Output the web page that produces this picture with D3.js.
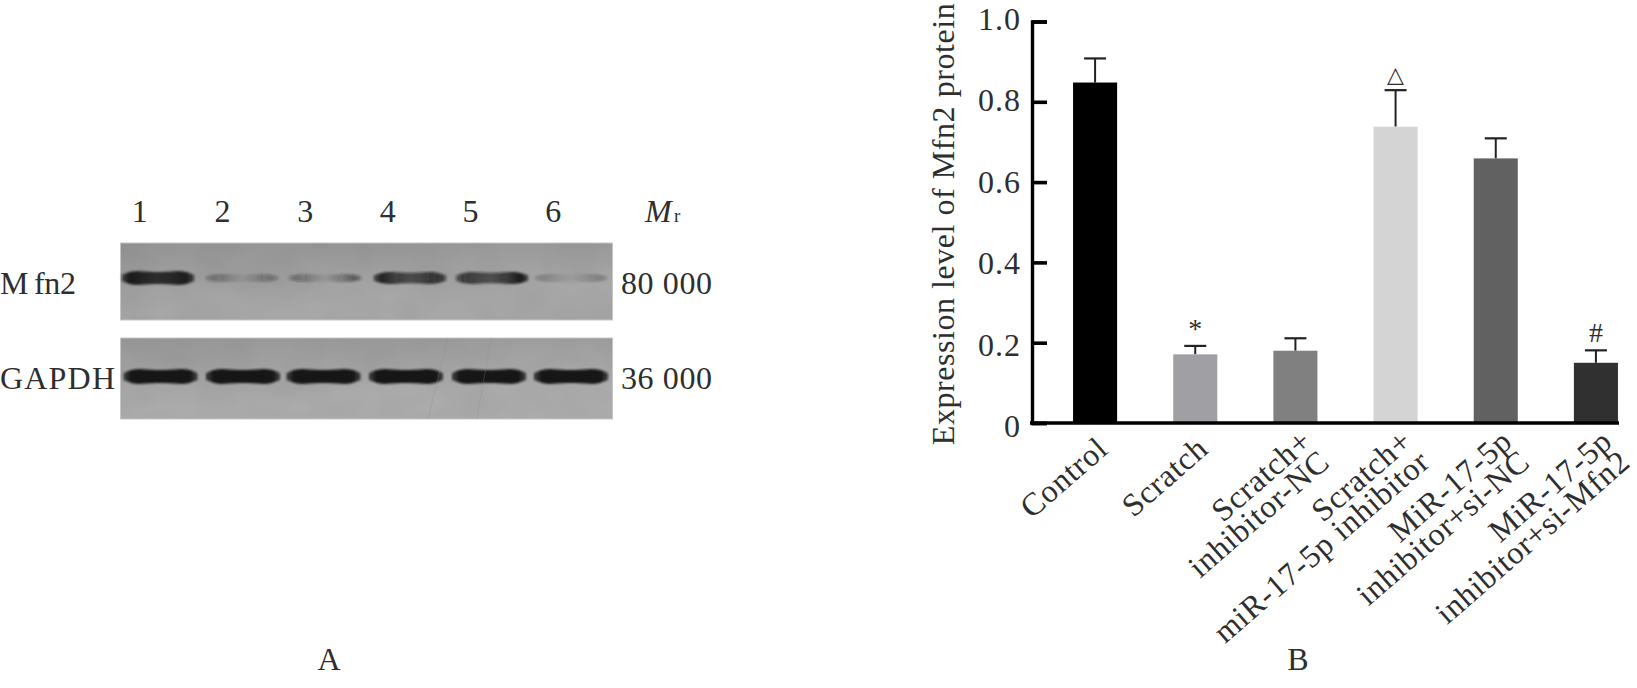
<!DOCTYPE html>
<html><head><meta charset="utf-8">
<script src="https://cdn.jsdelivr.net/npm/d3@7"></script>
<style>html,body{margin:0;background:#fff}svg{display:block}
text{font-family:"Liberation Serif",serif;fill:#2e2e2e}</style></head>
<body><svg id="c" width="1637" height="688"></svg>
<script>
const categories = [["Control"],["Scratch"],["Scratch+","inhibitor-NC"],["Scratch+","miR-17-5p inhibitor"],["MiR-17-5p","inhibitor+si-NC"],["MiR-17-5p","inhibitor+si-Mfn2"]];
const means = [0.848,0.171,0.180,0.738,0.659,0.150];
const upper = [0.908,0.192,0.211,0.829,0.709,0.181];
const barColors = ["#000000","#a0a0a4","#808080","#d4d4d4","#616161","#303030"];
const marks = ["","*","","△","","#"];
const yTicks = [0,0.2,0.4,0.6,0.8,1.0];
const yTickLabels = ["0","0.2","0.4","0.6","0.8","1.0"];
const lanes = ["1","2","3","4","5","6"];
// band darkness at left end, middle, right end
const mfn2Bands = [[0.98,0.85,0.95],[0.34,0.06,0.34],[0.36,0.06,0.5],[0.92,0.6,0.8],[0.72,0.58,0.98],[0.2,0.05,0.22]];
const gapdhBands = [[1,1,1],[1,1,1],[1,1,1],[1,1,1],[1,1,1],[1,1,1]];
const mfn2Centers = [158,242,325,410,492,571];
const mfn2Half = [7,4,4,6,6,4];
const gapdhCenters = [160.5,243,323.5,406,489,571];
const gapdhHalf = [7.5,7.5,7.5,7.5,7.5,7.5];
const bandProfile = [0.45,0.98,1,0.9,0.84,0.9,1,0.98,0.45];
const scratches = [[448,338,428,419],[491,338,477,419]];

const svg = d3.select("#c");
const defs = svg.append("defs");
defs.append("filter").attr("id","b1").attr("x","-20%").attr("y","-100%").attr("width","140%").attr("height","300%")
  .append("feGaussianBlur").attr("stdDeviation","1.8 1.3");
defs.append("filter").attr("id","b2").attr("x","-20%").attr("y","-100%").attr("width","140%").attr("height","300%")
  .append("feGaussianBlur").attr("stdDeviation","1.1");
const nf = defs.append("filter").attr("id","grain").attr("x","0").attr("y","0").attr("width","100%").attr("height","100%");
nf.append("feTurbulence").attr("type","fractalNoise").attr("baseFrequency","0.02 0.03").attr("numOctaves",2).attr("seed",4);
nf.append("feColorMatrix").attr("values","0 0 0 0 0  0 0 0 0 0  0 0 0 0 0  0.3 0 0 0 -0.1");
const corner = defs.append("linearGradient").attr("id","corner").attr("x1",0).attr("y1",0).attr("x2",0.3).attr("y2",0.8);
[[0,0.12],[1,0]].forEach(s=>corner.append("stop").attr("offset",s[0]).attr("stop-color","#000").attr("stop-opacity",s[1]));

/* ---------- Panel A ---------- */
const FS = 32;
function label(x,y,t,o={}){
  return svg.append("text").attr("x",x).attr("y",y).attr("font-size",o.fs||FS)
    .attr("text-anchor",o.anchor||"start").attr("font-style",o.italic?"italic":null)
    .attr("letter-spacing",o.ls||null).text(t);
}
const laneX = d3.scaleBand().domain(lanes).range([98.5,594.5]);
lanes.forEach(l=>label(laneX(l)+laneX.bandwidth()/2,222,l,{anchor:"middle"}));
label(645,222,"M",{italic:true});
label(674,222,"r",{fs:19});
label(0,294,"M");
label(34,294,"fn2",{ls:-0.3});
label(0,389,"GAPDH",{ls:1.2});
label(621,294,"80 000",{ls:0.6});
label(621,389,"36 000",{ls:0.6});

function blot(y0,y1,bg,centers,levels,halfW,halves,bandY,filt,id){
  svg.append("rect").attr("x",120.5).attr("y",y0).attr("width",492).attr("height",y1-y0).attr("fill",bg).attr("stroke","#c6c6c6").attr("stroke-width",1);
  svg.append("rect").attr("x",121).attr("y",y0+.5).attr("width",491).attr("height",y1-y0-1).attr("fill","#000").attr("filter","url(#grain)").attr("opacity",0.22);
  svg.append("rect").attr("x",121).attr("y",y0+.5).attr("width",491).attr("height",y1-y0-1).attr("fill","url(#corner)");
  centers.forEach((c,i)=>{
    const g = defs.append("linearGradient").attr("id",id+i);
    const lv = levels[i];
    [[0,lv[0]*.7],[0.1,lv[0]],[0.32,(lv[0]+lv[1]*2)/3],[0.5,lv[1]],[0.68,(lv[2]+lv[1]*2)/3],[0.9,lv[2]],[1,lv[2]*.7]].forEach(s=>
      g.append("stop").attr("offset",s[0]).attr("stop-color","#161616").attr("stop-opacity",s[1]));
    const px = d3.scaleLinear().domain([0,bandProfile.length-1]).range([c-halfW,c+halfW]);
    const area = d3.area().x((d,k)=>px(k)).y0(d=>bandY-halves[i]*d).y1(d=>bandY+halves[i]*d).curve(d3.curveBasis);
    svg.append("path").datum(bandProfile).attr("d",area).attr("fill",`url(#${id+i})`).attr("filter",`url(#${filt})`);
  });
}
blot(243,320,"#a7a7a7",mfn2Centers,mfn2Bands,36,mfn2Half,278,"b1","m");
blot(338,419,"#ababab",gapdhCenters,gapdhBands,37,gapdhHalf,376.5,"b2","g");
svg.selectAll("line.scr").data(scratches).enter().append("line").attr("class","scr")
  .attr("x1",d=>d[0]).attr("y1",d=>d[1]).attr("x2",d=>d[2]).attr("y2",d=>d[3])
  .attr("stroke","#8c8c8c").attr("stroke-width",0.8).attr("opacity",0.35);
label(329,670,"A",{anchor:"middle"});

/* ---------- Panel B ---------- */
const y = d3.scaleLinear().domain([0,1]).range([423,21.5]);
const yLabel = d3.scaleLinear().domain([0,1]).range([427,20]);
const x = d3.scaleBand().domain(d3.range(6)).range([1045,1646]).paddingInner(0.56).paddingOuter(0.28);
const bw = x.bandwidth();

svg.selectAll("line.err").data(means).enter().append("line").attr("class","err")
  .attr("x1",(d,i)=>x(i)+bw/2).attr("x2",(d,i)=>x(i)+bw/2)
  .attr("y1",d=>y(d)).attr("y2",(d,i)=>y(upper[i])).attr("stroke","#222").attr("stroke-width",2);
svg.selectAll("line.cap").data(upper).enter().append("line").attr("class","cap")
  .attr("x1",(d,i)=>x(i)+bw/2-11).attr("x2",(d,i)=>x(i)+bw/2+11)
  .attr("y1",d=>y(d)).attr("y2",d=>y(d)).attr("stroke","#222").attr("stroke-width",2.2);
svg.selectAll("rect.bar").data(means).enter().append("rect").attr("class","bar")
  .attr("x",(d,i)=>x(i)).attr("width",bw).attr("y",d=>y(d)).attr("height",d=>y(0)-y(d))
  .attr("fill",(d,i)=>barColors[i]);

const axisG = svg.append("g").attr("transform","translate(1032,0)")
  .call(d3.axisRight(y).tickValues(yTicks).tickSize(15).tickFormat(""));
axisG.select(".domain").attr("stroke","#000").attr("stroke-width",3.4);
axisG.selectAll(".tick line").attr("stroke","#000").attr("stroke-width",3.6);
yTicks.forEach((t,i)=>label(1021,yLabel(t)+10,yTickLabels[i],{anchor:"end",ls:1}));
svg.append("line").attr("x1",1030).attr("x2",1619).attr("y1",y(0)).attr("y2",y(0)).attr("stroke","#000").attr("stroke-width",3.6);

marks.forEach((m,i)=>{ if(!m) return;
  const fs = m==="△"?22:28;
  svg.append("text").attr("x",x(i)+bw/2).attr("y",y(upper[i])-8).attr("text-anchor","middle")
    .attr("font-size",fs).style("font-family",m==="△"?'"DejaVu Sans"':null).text(m);
});

const tl = svg.selectAll("g.cat").data(categories).enter().append("g").attr("class","cat")
  .attr("transform",(d,i)=>`translate(${x(i)+bw/2+(d.length>1?19:3)},${d.length>1?445:438}) rotate(-41)`);
tl.each(function(lines){
  const g=d3.select(this);
  lines.forEach((t,k)=>g.append("text").attr("x",0).attr("y",k*27+(lines.length>1?-1:18))
    .attr("text-anchor","end").attr("font-size",FS).attr("letter-spacing",0.8).text(t));
});

svg.append("text").attr("transform","translate(954,224) rotate(-90)").attr("text-anchor","middle")
  .attr("font-size",FS).attr("letter-spacing",0.55).text("Expression level of Mfn2 protein");
label(1298,670,"B",{anchor:"middle"});
</script></body></html>
